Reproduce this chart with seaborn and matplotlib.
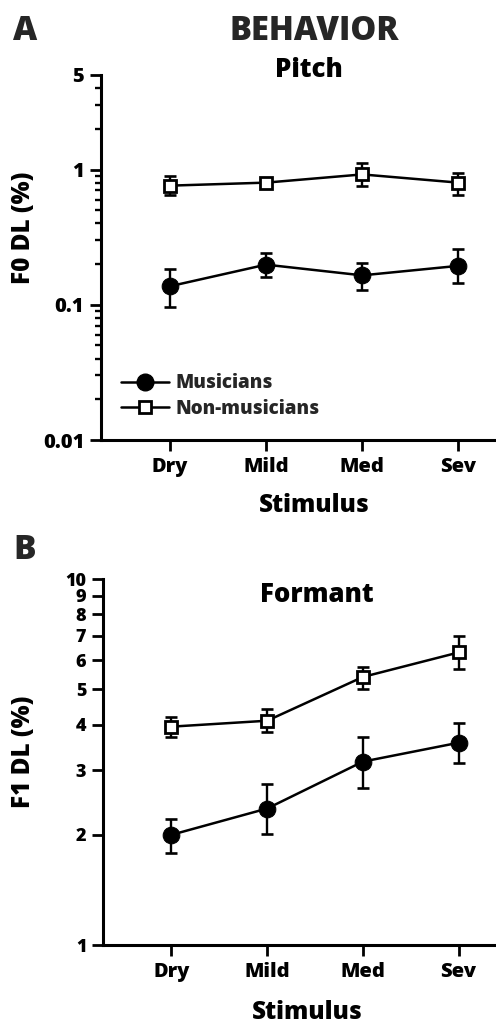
import numpy as np
import pandas as pd
import matplotlib
matplotlib.use("Agg")
import matplotlib.pyplot as plt
from matplotlib.lines import Line2D
from matplotlib.ticker import FixedLocator, FixedFormatter, LogLocator, NullFormatter, NullLocator
import seaborn as sns

# ---------------- data ----------------
stimuli = ["Dry", "Mild", "Med", "Sev"]
groups = ["Musicians", "Non-musicians"]

# Panel A: F0 DL (%)
f0_mus = [0.137, 0.198, 0.165, 0.194]
f0_mus_lo = [0.097, 0.160, 0.128, 0.145]
f0_mus_hi = [0.185, 0.241, 0.204, 0.260]
f0_non = [0.76, 0.80, 0.92, 0.80]
f0_non_lo = [0.65, 0.74, 0.75, 0.65]
f0_non_hi = [0.89, 0.86, 1.11, 0.95]

# Panel B: F1 DL (%)
f1_mus = [2.00, 2.36, 3.17, 3.57]
f1_mus_lo = [1.78, 2.01, 2.68, 3.15]
f1_mus_hi = [2.21, 2.76, 3.69, 4.04]
f1_non = [3.95, 4.10, 5.40, 6.30]
f1_non_lo = [3.71, 3.82, 5.00, 5.67]
f1_non_hi = [4.19, 4.41, 5.74, 6.97]

f0_ticks = [0.01, 0.1, 1, 5]
f0_ticklabels = ["0.01", "0.1", "1", "5"]
f1_ticks = [1, 2, 3, 4, 5, 6, 7, 8, 9, 10]
f1_ticklabels = [str(t) for t in f1_ticks]

# ---------------- style ----------------
sns.set_theme(style="ticks")
plt.rcParams["font.family"] = ["Open Sans", "DejaVu Sans"]
plt.rcParams["font.weight"] = "heavy"
plt.rcParams["axes.labelweight"] = "heavy"
plt.rcParams["axes.linewidth"] = 2.2

W, H = 496, 1026
fig = plt.figure(figsize=(W / 100, H / 100), dpi=100)

def fx(px):
    return px / W

def fy(py):
    return 1 - py / H

axA = fig.add_axes([fx(101), fy(440), fx(495) - fx(101), (440 - 75) / H])
axB = fig.add_axes([fx(103), fy(945), fx(495) - fx(103), (945 - 579) / H])

pos = np.arange(len(stimuli))
LW = 1.8

def draw_panel(ax, mus, mus_lo, mus_hi, non, non_lo, non_hi):
    df = pd.DataFrame({
        "pos": np.concatenate([pos, pos]),
        "val": list(mus) + list(non),
        "group": [groups[0]] * len(pos) + [groups[1]] * len(pos),
    })
    for g, lo, hi, vals in [(groups[0], mus_lo, mus_hi, mus), (groups[1], non_lo, non_hi, non)]:
        vals = np.array(vals)
        yerr = np.vstack([vals - np.array(lo), np.array(hi) - vals])
        ax.errorbar(pos, vals, yerr=yerr, fmt="none", ecolor="black",
                    elinewidth=1.7, capsize=4.3, capthick=1.9, zorder=2)
    sns.lineplot(data=df[df.group == groups[0]], x="pos", y="val", color="black",
                 marker="o", markersize=12, markerfacecolor="black",
                 markeredgecolor="black", linewidth=LW, ax=ax, legend=False,
                 zorder=3)
    sns.lineplot(data=df[df.group == groups[1]], x="pos", y="val", color="black",
                 marker="s", markersize=9.2, markerfacecolor="white",
                 markeredgecolor="black", markeredgewidth=2.0, linewidth=LW,
                 ax=ax, legend=False, zorder=3)
    ax.set_yscale("log")
    ax.set_xlim(-0.715, 3.38)
    ax.set_xticks(pos)
    ax.set_xticklabels(stimuli)
    ax.xaxis.set_minor_locator(NullLocator())
    sns.despine(ax=ax)
    ax.tick_params(axis="both", which="major", length=8, width=2.0,
                   labelsize=14.5, pad=4, color="black", labelcolor="black")
    ax.tick_params(axis="y", which="minor", length=4.5, width=1.7, color="black")
    for s in ["left", "bottom"]:
        ax.spines[s].set_color("black")
        ax.spines[s].set_linewidth(2.2)
    ax.set_xlabel("Stimulus", fontsize=17.5, color="black")

draw_panel(axA, f0_mus, f0_mus_lo, f0_mus_hi, f0_non, f0_non_lo, f0_non_hi)
axA.set_ylim(0.01, 5)
axA.yaxis.set_major_locator(FixedLocator(f0_ticks))
axA.yaxis.set_major_formatter(FixedFormatter(f0_ticklabels))
axA.yaxis.set_minor_locator(LogLocator(base=10, subs=np.arange(2, 10)))
axA.yaxis.set_minor_formatter(NullFormatter())
axA.set_ylabel("F0 DL (%)", fontsize=17.5, color="black")
axA.yaxis.set_label_coords((36 - 101) / 394, (440 - 228) / 365)
axA.xaxis.set_label_coords((314 - 101) / 394, (440 - 493) / 365)
axA.text((309 - 101) / 394, (440 - 70) / 365, "Pitch", transform=axA.transAxes,
         ha="center", va="center", fontsize=18.5, fontweight="heavy", color="black")

draw_panel(axB, f1_mus, f1_mus_lo, f1_mus_hi, f1_non, f1_non_lo, f1_non_hi)
axB.set_ylim(1, 10)
axB.yaxis.set_major_locator(FixedLocator(f1_ticks))
axB.yaxis.set_major_formatter(FixedFormatter(f1_ticklabels))
axB.yaxis.set_minor_locator(NullLocator())
axB.tick_params(axis="y", which="major", labelsize=13)
axB.set_ylabel("F1 DL (%)", fontsize=17.5, color="black")
axB.yaxis.set_label_coords((36 - 103) / 392, (945 - 752) / 366)
axB.xaxis.set_label_coords((307 - 103) / 392, (945 - 1000) / 366)
axB.text((317 - 103) / 392, (945 - 595) / 366, "Formant", transform=axB.transAxes,
         ha="center", va="center", fontsize=18.5, fontweight="heavy", color="black")

# legend
handles = [
    Line2D([], [], color="black", marker="o", markersize=12, markerfacecolor="black",
           linewidth=LW, label=groups[0]),
    Line2D([], [], color="black", marker="s", markersize=9.2, markerfacecolor="white",
           markeredgewidth=2.0, linewidth=LW, label=groups[1]),
]
axA.legend(handles=handles, loc="center left",
           bbox_to_anchor=((121 - 101) / 394, (440 - 396) / 365),
           frameon=False, borderpad=0, borderaxespad=0,
           handlelength=2.55, handletextpad=0.35, labelspacing=0.3,
           prop={"weight": "heavy", "size": 13.5})

# panel letters and header
fig.text(fx(25), fy(31), "A", ha="center", va="center", fontsize=24, fontweight="heavy")
fig.text(fx(314), fy(31), "BEHAVIOR", ha="center", va="center", fontsize=23.5, fontweight="heavy")
fig.text(fx(25), fy(550), "B", ha="center", va="center", fontsize=24, fontweight="heavy")

fig.savefig("out.png", dpi=100)
